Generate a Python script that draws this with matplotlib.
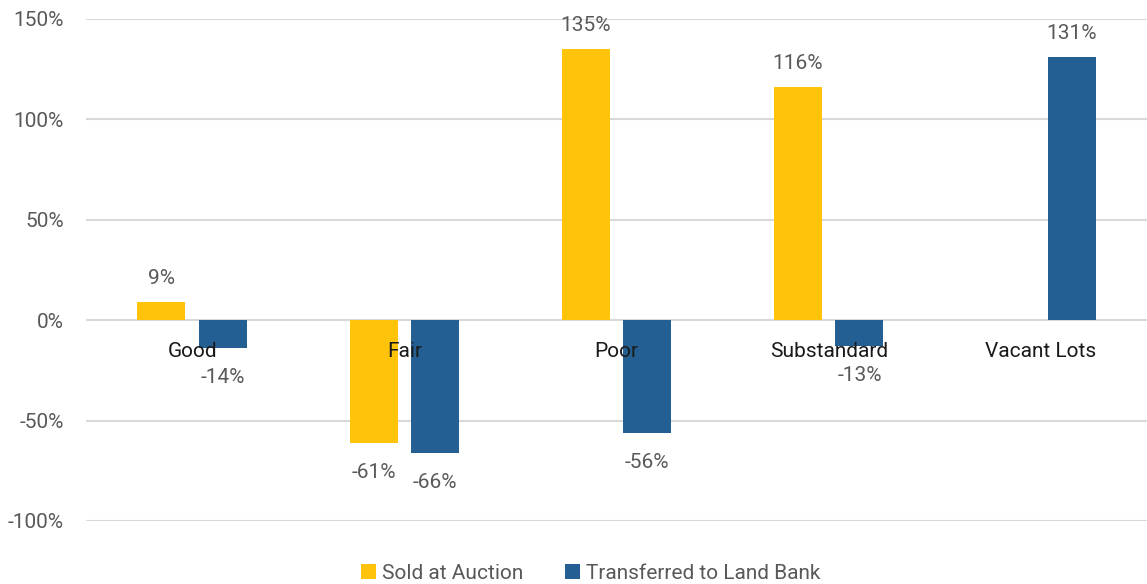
import matplotlib.pyplot as plt
import numpy as np
from matplotlib.ticker import FuncFormatter
from matplotlib import font_manager

categories = ['Good', 'Fair', 'Poor', 'Substandard', 'Vacant Lots']
sold_auction = [9, -61, 135, 116, np.nan]
land_bank = [-14, -66, -56, -13, 131]
series_names = ['Sold at Auction', 'Transferred to Land Bank']


def main():
    names = {f.name for f in font_manager.fontManager.ttflist}
    family = 'Liberation Sans Narrow' if 'Liberation Sans Narrow' in names else 'Roboto'
    plt.rcParams['font.family'] = [family, 'DejaVu Sans']

    fig = plt.figure(figsize=(11.47, 5.84), dpi=100)
    ax = fig.add_axes([0.075, 0.108, 0.925, 0.8595])

    x = np.arange(len(categories))
    w = 0.226
    off = 0.145
    colors = ['#FFC30B', '#245F94']
    grey = '#595959'
    fs = 15

    for vals, dx, c, name in [(sold_auction, -off, colors[0], series_names[0]),
                              (land_bank, off, colors[1], series_names[1])]:
        ax.bar(x + dx, vals, width=w, color=c, label=name, zorder=3)
        for xi, v in zip(x, vals):
            if np.isnan(v):
                continue
            if v >= 0:
                ax.text(xi + dx, v + 7, '{:.0f}%'.format(v), ha='center', va='bottom',
                        fontsize=fs, color=grey)
            else:
                ax.text(xi + dx, v - 10, '{:.0f}%'.format(v), ha='center', va='top',
                        fontsize=fs, color=grey)

    for xi, cat in zip(x, categories):
        ax.text(xi, -11, cat, ha='center', va='top', fontsize=fs, color='#1a1a1a', zorder=4)

    ax.set_xlim(-0.5, len(categories) - 0.5)
    ax.set_ylim(-100, 150)
    ax.set_yticks(np.arange(-100, 151, 50))
    ax.yaxis.set_major_formatter(FuncFormatter(lambda v, p: '{:.0f}%'.format(v)))
    ax.tick_params(axis='y', length=0, labelsize=fs, labelcolor=grey, pad=16)
    ax.set_xticks([])
    ax.grid(axis='y', color='#D9D9D9', linewidth=1.5, zorder=0)
    for s in ax.spines.values():
        s.set_visible(False)

    fig.legend(loc='lower center', bbox_to_anchor=(0.515, -0.03), ncol=2, frameon=False,
               fontsize=fs, labelcolor=grey, handlelength=0.7, handleheight=0.7,
               handletextpad=0.3, columnspacing=2.0)
    fig.savefig('out.png', dpi=100)


if __name__ == '__main__':
    main()
